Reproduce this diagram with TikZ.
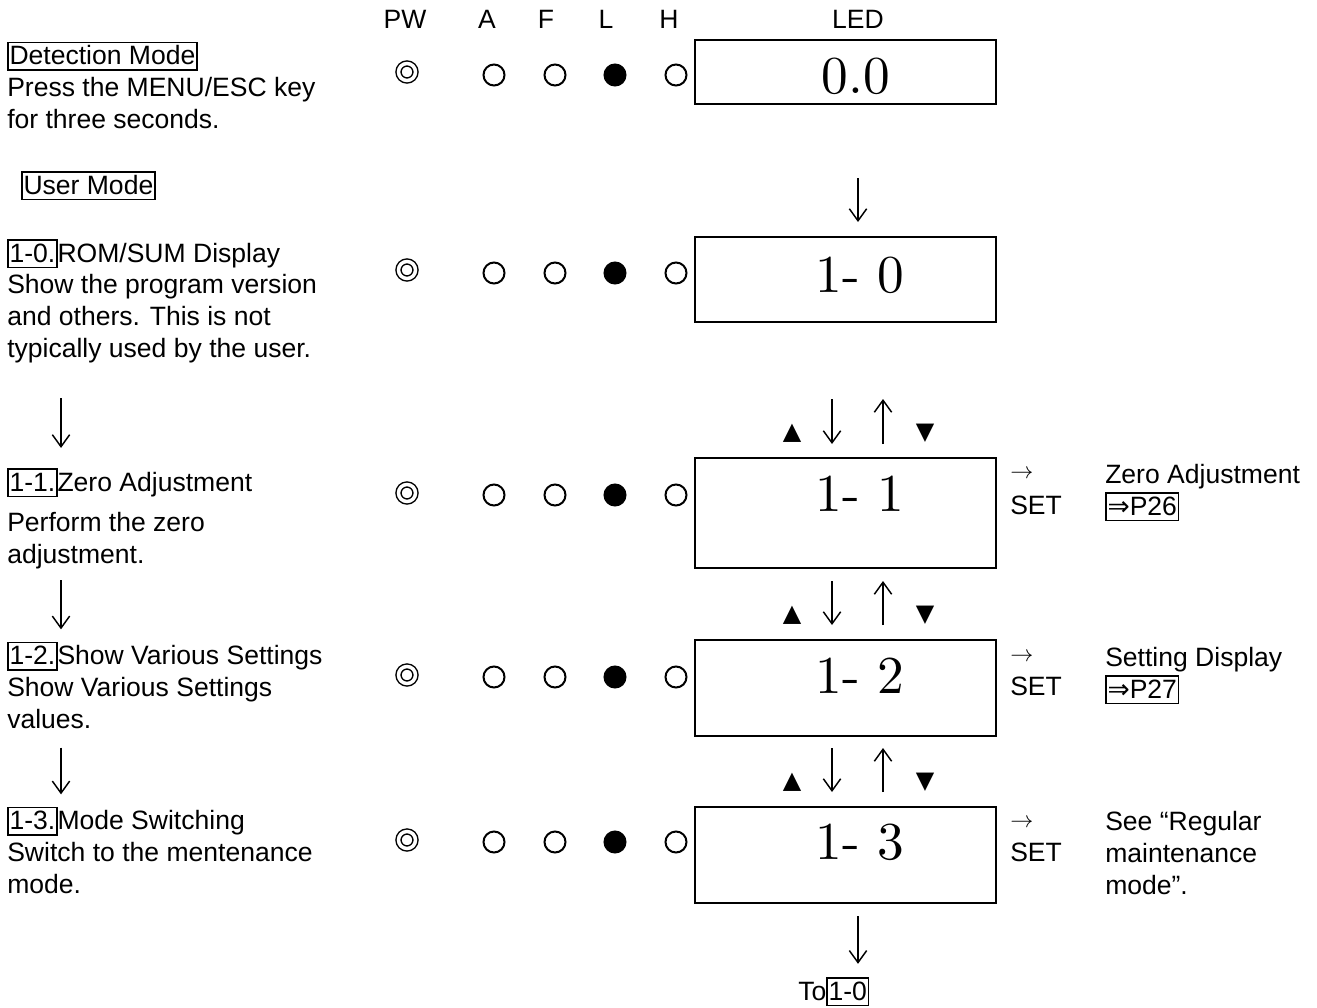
\documentclass[tikz,border=0pt]{standalone}
\usepackage{fontspec}
\usetikzlibrary{arrows.meta}
\newfontfamily\arial{Liberation Sans}
\newfontfamily\dejavu{DejaVu Sans}
\newfontfamily\lmten{lmroman10-regular.otf}
\setlength\fboxrule{1.1pt}
\setlength\fboxsep{0.6pt}
\setlength\lineskip{0pt}
\def\lbl#1{\fbox{\rule[-2.8pt]{0pt}{18.3pt}#1}}
\tikzset{
  txt/.style={font=\arial\fontsize{19.9}{23.7}\selectfont, inner sep=0pt, align=left, anchor=base west},
  hd/.style={font=\arial\fontsize{19.9}{23.7}\selectfont, inner sep=0pt, anchor=base},
  dig/.style={font=\lmten\fontsize{40}{40}\selectfont, inner sep=0pt, anchor=base},
  tri/.style={font=\dejavu\fontsize{18}{18}\selectfont, inner sep=0pt},
  rarr/.style={font=\fontsize{17}{17}\selectfont, inner sep=0pt},
  disp/.style={draw, line width=1.5pt, minimum width=225.75pt, inner sep=0pt},
  led/.style={circle, draw, line width=1.5pt, minimum size=15.75pt, inner sep=0pt},
  on/.style={led, fill=black},
  pw/.style={circle, draw, line width=1.1pt, double, double distance=2.6pt, minimum size=12.75pt, inner sep=0pt},
  dn/.style={line width=1.5pt, -{Straight Barb[length=9pt, width=13pt, line width=1.1pt]}}
}
\begin{document}
\begin{tikzpicture}[x=0.75pt, y=-0.75pt]
\useasboundingbox (0,0) rectangle (1317,1007);
\node[hd] (hpw) at (405,28) {PW};
\node[hd] (ha) at (487,28) {A};
\node[hd] (hf) at (546,28) {F};
\node[hd] (hl) at (606,28) {L};
\node[hd] (hh) at (669,28) {H};
\node[hd] (hled) at (858,28) {LED};
\coordinate (lx) at (61,0);
\coordinate (dx) at (832,0);
\coordinate (ux) at (883,0);

\node[txt] (tdet) at (7,128) {\lbl{Detection Mode}\\Press the MENU/ESC key\\for three seconds.};
\node[txt] (tuser) at (21,194) {\lbl{User Mode}};
\node[txt] (t10) at (7,357) {\lbl{1-0.}ROM/SUM Display\\Show the program version\\and others. This is not\\typically used by the user.};
\node[txt] (t11) at (7,563) {\lbl{1-1.}Zero Adjustment\\[6.3pt]Perform the zero\\adjustment.};
\node[txt] (t12) at (7,728) {\lbl{1-2.}Show Various Settings\\Show Various Settings\\values.};
\node[txt] (t13) at (7,893) {\lbl{1-3.}Mode Switching\\Switch to the mentenance\\mode.};
\draw[dn, shorten <=26.5pt, shorten >=15.2pt] (t10.south -| lx) -- (t11.north -| lx);
\draw[dn, shorten <=8.5pt, shorten >=9.2pt] (t11.south -| lx) -- (t12.north -| lx);
\draw[dn, shorten <=14.25pt, shorten >=9.2pt] (t12.south -| lx) -- (t13.north -| lx);

\node[pw] (pw0) at (407,72) {}; \node[led] (a0) at (494,75) {}; \node[led] (f0) at (555,75) {}; \node[on] (l0) at (615,75) {}; \node[led] (h0) at (676,75) {};
\node[pw] (pw1) at (407,270) {}; \node[led] (a1) at (494,273) {}; \node[led] (f1) at (555,273) {}; \node[on] (l1) at (615,273) {}; \node[led] (h1) at (676,273) {};
\node[pw] (pw2) at (407,493) {}; \node[led] (a2) at (494,495) {}; \node[led] (f2) at (555,495) {}; \node[on] (l2) at (615,495) {}; \node[led] (h2) at (676,495) {};
\node[pw] (pw3) at (407,675) {}; \node[led] (a3) at (494,677) {}; \node[led] (f3) at (555,677) {}; \node[on] (l3) at (615,677) {}; \node[led] (h3) at (676,677) {};
\node[pw] (pw4) at (407,840) {}; \node[led] (a4) at (494,842) {}; \node[led] (f4) at (555,842) {}; \node[on] (l4) at (615,842) {}; \node[led] (h4) at (676,842) {};

\node[disp, minimum height=48pt] (b0) at (845.5,72) {};
\node[disp, minimum height=63.75pt] (b1) at (845.5,279.5) {};
\node[disp, minimum height=82.5pt] (b2) at (845.5,513) {};
\node[disp, minimum height=72pt] (b3) at (845.5,688) {};
\node[disp, minimum height=72pt] (b4) at (845.5,855) {};
\node[dig] (d0) at (856,93) {0.0};
\node[dig] (d1) at (860,292) {1- 0};
\node[dig] (d2) at (860,511) {1- 1};
\node[dig] (d3) at (860,693) {1- 2};
\node[dig] (d4) at (860,859) {1- 3};

\draw[dn, shorten <=54.75pt, shorten >=10.5pt] (b0.south -| hled) -- (b1.north -| hled);
\node[tri] (u1) at (792,433) {▲}; \node[tri] (v1) at (925,433) {▼};
\draw[dn, shorten <=57pt, shorten >=9.75pt] (b1.south -| dx) -- (b2.north -| dx);
\draw[dn, shorten <=9.75pt, shorten >=57pt] (b2.north -| ux) -- (b1.south -| ux);
\node[tri] (u2) at (792,615) {▲}; \node[tri] (v2) at (925,615) {▼};
\draw[dn, shorten <=9pt, shorten >=10.5pt] (b2.south -| dx) -- (b3.north -| dx);
\draw[dn, shorten <=10.5pt, shorten >=9pt] (b3.north -| ux) -- (b2.south -| ux);
\node[tri] (u3) at (792,782) {▲}; \node[tri] (v3) at (925,782) {▼};
\draw[dn, shorten <=8.25pt, shorten >=10.5pt] (b3.south -| dx) -- (b4.north -| dx);
\draw[dn, shorten <=10.5pt, shorten >=8.25pt] (b4.north -| ux) -- (b3.south -| ux);
\node[txt] (to) at (798,1000) {To\lbl{1-0}};
\draw[dn, shorten <=9pt, shorten >=9.75pt] (b4.south -| hled) -- (to.north -| hled);

\node[rarr] (ar2) at (1022,474) {$\rightarrow$};
\node[txt] (set2) at (1010,514) {SET};
\node[txt] (r2) at (1105,515) {Zero Adjustment\\\lbl{{\dejavu ⇒}P26}};
\node[rarr] (ar3) at (1022,657) {$\rightarrow$};
\node[txt] (set3) at (1010,695) {SET};
\node[txt] (r3) at (1105,698) {Setting Display\\\lbl{{\dejavu ⇒}P27}};
\node[rarr] (ar4) at (1022,823) {$\rightarrow$};
\node[txt] (set4) at (1010,861) {SET};
\node[txt] (r4) at (1105,894) {See “Regular\\maintenance\\mode”.};
\end{tikzpicture}
\end{document}
